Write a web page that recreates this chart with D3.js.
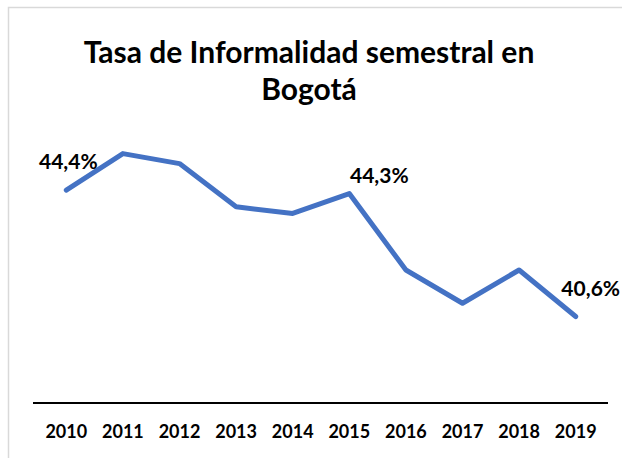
<!DOCTYPE html>
<html>
<head>
<meta charset="utf-8">
<script src="https://cdn.jsdelivr.net/npm/d3@7"></script>
<style>
  body { margin: 0; background: #fff; }
  svg { display: block; font-family: Lato, "Open Sans", sans-serif; }
</style>
</head>
<body>
<svg id="chart" width="622" height="458"></svg>
<script>
// tasa de informalidad (%) por año
var years = ["2010", "2011", "2012", "2013", "2014", "2015", "2016", "2017", "2018", "2019"];
var rates = [44.4, 45.5, 45.2, 43.9, 43.7, 44.3, 42.0, 41.0, 42.0, 40.6];
var labelled = [0, 5, 9]; // puntos con etiqueta de dato
var titleLines = ["Tasa de Informalidad semestral en", "Bogotá"];

var fig = d3.select("#chart");

// marco gris del gráfico
fig.append("rect")
    .attr("x", 8.5).attr("y", 7.5)
    .attr("width", 640).attr("height", 480)
    .attr("fill", "none")
    .attr("stroke", "#d9d9d9")
    .attr("stroke-width", 1.5);

var x = d3.scaleBand().domain(years).range([38, 604]);
var y = d3.scaleLinear().domain([38, 46]).range([403, 137]);

// titulo
fig.append("text")
    .attr("x", 309)
    .attr("text-anchor", "middle")
    .style("font-weight", "bold")
    .style("font-size", "30px")
    .style("fill", "#000")
    .selectAll("tspan")
    .data(titleLines)
    .enter()
    .append("tspan")
    .attr("x", 309)
    .attr("y", function (d, i) { return 63 + i * 37; })
    .text(function (d) { return d; });

// eje x
var xAxis = fig.append("g")
    .attr("transform", "translate(0,403)")
    .call(d3.axisBottom(x).tickSize(0).tickPadding(22));
xAxis.select(".domain")
    .attr("d", "M33,0H608")
    .attr("stroke", "#000")
    .attr("stroke-width", 2);
xAxis.selectAll("text")
    .style("font-family", "Lato, 'Open Sans', sans-serif")
    .style("font-size", "18px")
    .style("font-weight", "bold")
    .style("fill", "#000");

// linea
var line = d3.line()
    .x(function (d, i) { return x(years[i]) + x.bandwidth() / 2; })
    .y(function (d) { return y(d); });

fig.append("path")
    .datum(rates)
    .attr("d", line)
    .attr("fill", "none")
    .attr("stroke", "#4472C4")
    .attr("stroke-width", 5)
    .attr("stroke-linejoin", "round")
    .attr("stroke-linecap", "round");

// etiquetas de datos (desplazadas como en el original)
var offsets = { 0: [2, -21], 5: [30, -11], 9: [15, -21] };
fig.selectAll(".dataLabel")
    .data(labelled)
    .enter()
    .append("text")
    .attr("class", "dataLabel")
    .attr("x", function (i) { return x(years[i]) + x.bandwidth() / 2 + offsets[i][0]; })
    .attr("y", function (i) { return y(rates[i]) + offsets[i][1]; })
    .attr("text-anchor", "middle")
    .style("font-size", "21px")
    .style("font-weight", "bold")
    .style("fill", "#000")
    .text(function (i) { return String(rates[i].toFixed(1)).replace(".", ",") + "%"; });
</script>
</body>
</html>
